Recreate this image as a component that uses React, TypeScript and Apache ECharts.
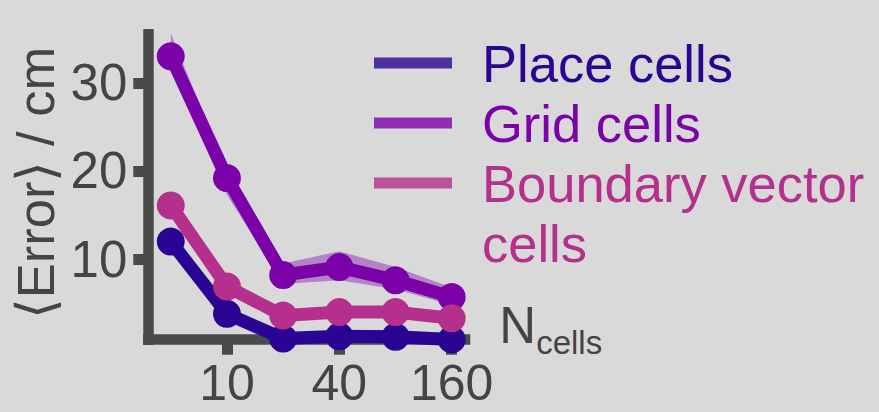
import React, { useEffect, useRef } from "react";
import * as echarts from "echarts";

const nCells = [5, 10, 20, 40, 80, 160];
const xTickValues = [10, 40, 160];
const yTickValues = [10, 20, 30];

const placeMean = [12.0, 3.8, 1.0, 1.25, 1.2, 0.9];
const placeLow = [11.3, 3.4, 0.8, 1.0, 1.0, 0.7];
const placeHigh = [12.8, 4.2, 1.3, 1.5, 1.4, 1.1];

const gridMean = [33.0, 19.2, 8.2, 9.1, 7.6, 5.7];
const gridLow = [31.5, 17.3, 7.2, 7.6, 6.6, 4.8];
const gridHigh = [35.6, 20.0, 9.5, 10.9, 9.1, 6.8];

const bvcMean = [16.1, 6.9, 3.6, 4.0, 4.0, 3.3];
const bvcLow = [15.3, 6.3, 3.1, 3.5, 3.5, 2.9];
const bvcHigh = [17.6, 7.6, 4.1, 4.5, 4.5, 3.7];

const FONT = "Liberation Sans";
const AXIS = "#4a4a4a";
const LABEL = "#444444";

const groups = [
  { name: "Place cells", color: "#2a0593", legendColor: "rgba(42,5,147,0.8)", mean: placeMean, low: placeLow, high: placeHigh },
  { name: "Grid cells", color: "#7a02a8", legendColor: "rgba(122,2,168,0.8)", mean: gridMean, low: gridLow, high: gridHigh },
  { name: "Boundary vector cells", color: "#b52f8c", legendColor: "rgba(181,47,140,0.8)", mean: bvcMean, low: bvcLow, high: bvcHigh },
];

export default function App() {
  const ref = useRef<HTMLDivElement>(null);
  useEffect(() => {
    if (!ref.current) return;
    const chart = echarts.init(ref.current, null, { renderer: "svg" });
    const series: any[] = [];
    groups.forEach((g) => {
      series.push({
        name: g.name + " band",
        type: "custom",
        silent: true,
        clip: true,
        z: 1,
        encode: { x: 0, y: 1 },
        data: [[nCells[0], g.mean[0]]],
        renderItem: (_params: any, api: any) => {
          const pts: number[][] = [];
          for (let i = 0; i < nCells.length; i++) pts.push(api.coord([nCells[i], g.high[i]]));
          for (let i = nCells.length - 1; i >= 0; i--) pts.push(api.coord([nCells[i], g.low[i]]));
          return { type: "polygon", shape: { points: pts }, style: { fill: g.color, opacity: 0.4 } };
        },
      });
    });
    groups.forEach((g, gi) => {
      series.push({
        name: g.name,
        type: "line",
        data: nCells.map((n, i) => [n, g.mean[i]]),
        lineStyle: { color: g.color, width: 13 },
        itemStyle: { color: g.color },
        symbol: "circle",
        symbolSize: 28,
        z: 3 + gi,
      });
    });

    chart.setOption({
      animation: false,
      backgroundColor: "#d9d9d9",
      grid: { left: 148.3, top: 34.3, width: 316.7, height: 305.4, containLabel: false, outerBoundsMode: "none" },
      xAxis: {
        type: "log",
        logBase: 2,
        min: 3.79,
        max: 188.5,
        name: "{n|N}{s|cells}",
        nameLocation: "end",
        nameGap: 8,
        nameTextStyle: {
          color: LABEL,
          fontFamily: FONT,
          padding: [0, 0, 20, 0],
          rich: {
            n: { fontSize: 51, fontFamily: FONT, color: LABEL, lineHeight: 51, verticalAlign: "top" },
            s: { fontSize: 33, fontFamily: FONT, color: LABEL, padding: [26, 0, 0, 0], verticalAlign: "top" },
          },
        },
        axisLine: { show: true, lineStyle: { color: AXIS, width: 10.5, cap: "square" } },
        axisTick: { show: true, length: 15, lineStyle: { color: AXIS, width: 11 }, customValues: xTickValues },
        axisLabel: {
          color: LABEL,
          fontSize: 50,
          fontFamily: FONT,
          margin: 18,
          customValues: xTickValues,
          formatter: (v: number) => String(Math.round(v)),
        },
        splitLine: { show: false },
        minorTick: { show: false },
      },
      yAxis: {
        type: "value",
        min: 0.87,
        max: 35.5,
        name: "⟨Error⟩ / cm",
        nameLocation: "middle",
        nameGap: 86,
        nameRotate: 90,
        nameTextStyle: { color: LABEL, fontSize: 52.5, fontFamily: FONT, padding: [0, 0, 0, 8] },
        axisLine: { show: true, lineStyle: { color: AXIS, width: 10.5, cap: "square" } },
        axisTick: { show: true, length: 15, lineStyle: { color: AXIS, width: 11 }, customValues: yTickValues },
        axisLabel: {
          color: LABEL,
          fontSize: 51,
          fontFamily: FONT,
          margin: 21,
          customValues: yTickValues,
        },
        splitLine: { show: false },
      },
      legend: {
        orient: "vertical",
        left: 374,
        top: 33,
        padding: 0,
        itemGap: 0,
        itemWidth: 78,
        itemHeight: 11,
        icon: "rect",
        selectedMode: false,
        textStyle: { fontSize: 52.5, fontFamily: FONT, lineHeight: 60, padding: [0, 0, 0, 25] },
        formatter: (name: string) => (name === "Boundary vector cells" ? "Boundary vector" : name),
        data: groups.map((g) => ({
          name: g.name,
          itemStyle: { color: g.legendColor },
          textStyle: { color: g.color },
        })),
      },
      graphic: [
        {
          type: "text",
          left: 482,
          top: 213,
          style: { text: "cells", fill: groups[2].color, fontSize: 52.5, fontFamily: FONT, lineHeight: 60 },
        },
      ],
      series,
    });
    return () => chart.dispose();
  }, []);
  return <div ref={ref} style={{ position: "fixed", left: 0, top: 0, width: 879, height: 412 }} />;
}
